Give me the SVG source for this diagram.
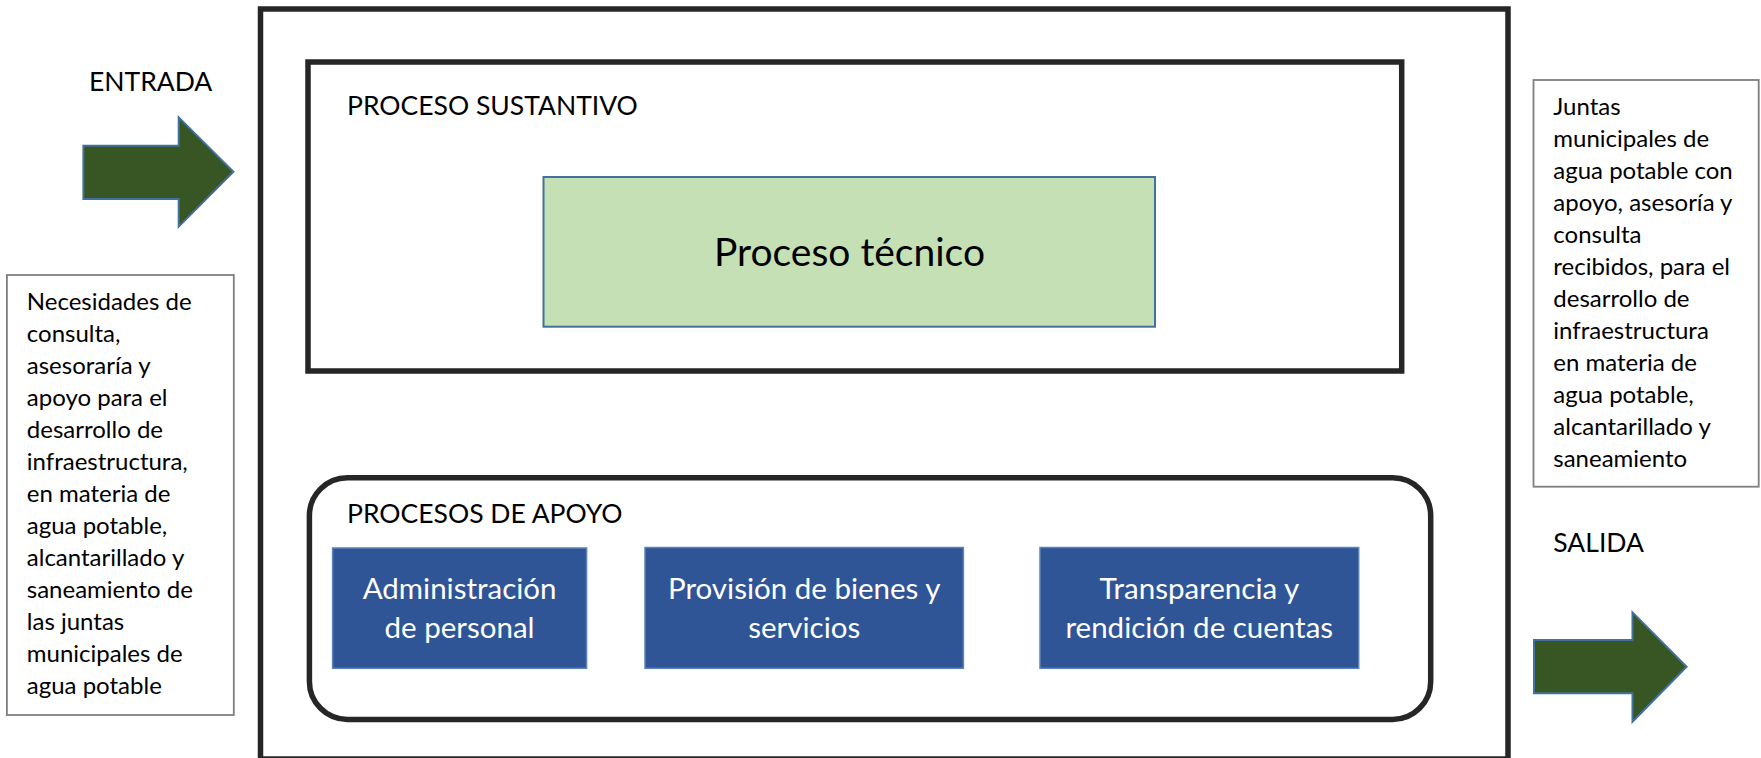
<svg xmlns="http://www.w3.org/2000/svg" width="1761" height="758" viewBox="0 0 1761 758">
<style>
.t{font-family:Lato,"Liberation Sans",sans-serif;fill:#000}
.body{font-size:24px}
.head{font-size:26.5px}
.w{font-family:Lato,"Liberation Sans",sans-serif;fill:#fff;font-size:29.5px;text-anchor:middle}
.frame{fill:none;stroke:#262626;stroke-width:5.5}
.tbox{fill:#fff;stroke:#7f7f7f;stroke-width:1.8}
.blue{fill:#2f5597;stroke:#5b84b8;stroke-width:1.5}
.arrow{fill:#375623;stroke:#41719c;stroke-width:2}
</style>
<rect width="1761" height="758" fill="#fff"/>
<g id="sistema">
<rect class="frame" x="260.5" y="9" width="1247.5" height="750"/>
</g>
<g id="proceso-sustantivo">
<rect class="frame" x="308" y="62" width="1093.7" height="309"/>
<text class="t head" x="347" y="115">PROCESO SUSTANTIVO</text>
</g>
<g id="proceso-tecnico">
<rect x="543.5" y="177" width="611.5" height="149.7" fill="#c5e0b4" stroke="#41719c" stroke-width="2"/>
<text class="t" x="849.5" y="266" font-size="39" text-anchor="middle">Proceso técnico</text>
</g>
<g id="procesos-apoyo">
<rect class="frame" x="309.4" y="477.8" width="1121.3" height="241.6" rx="38" ry="38"/>
<text class="t head" x="347" y="523.3">PROCESOS DE APOYO</text>
</g>
<g id="administracion">
<rect class="blue" x="332.6" y="548" width="254" height="120.3"/>
<text class="w" x="459.6" y="599.3">Administración</text>
<text class="w" x="459.6" y="638.3">de personal</text>
</g>
<g id="provision">
<rect class="blue" x="645" y="547.5" width="318.4" height="120.8"/>
<text class="w" x="804.2" y="599.3">Provisión de bienes y</text>
<text class="w" x="804.2" y="638.3">servicios</text>
</g>
<g id="transparencia">
<rect class="blue" x="1040" y="547.5" width="318.7" height="120.8"/>
<text class="w" x="1199.3" y="599.3">Transparencia y</text>
<text class="w" x="1199.3" y="638.3">rendición de cuentas</text>
</g>
<g id="entrada">
<text class="t head" x="89" y="90.7">ENTRADA</text>
</g>
<g id="necesidades">
<rect class="tbox" x="6.9" y="275" width="226.9" height="440"/>
<text class="t body">
<tspan x="26.8" y="310">Necesidades de</tspan>
<tspan x="26.8" y="342">consulta,</tspan>
<tspan x="26.8" y="374">asesoraría y</tspan>
<tspan x="26.8" y="406">apoyo para el</tspan>
<tspan x="26.8" y="438">desarrollo de</tspan>
<tspan x="26.8" y="470">infraestructura,</tspan>
<tspan x="26.8" y="502">en materia de</tspan>
<tspan x="26.8" y="534">agua potable,</tspan>
<tspan x="26.8" y="566">alcantarillado y</tspan>
<tspan x="26.8" y="598">saneamiento de</tspan>
<tspan x="26.8" y="630">las juntas</tspan>
<tspan x="26.8" y="662">municipales de</tspan>
<tspan x="26.8" y="694">agua potable</tspan>
</text>
</g>
<g id="juntas">
<rect class="tbox" x="1533.5" y="80" width="225.2" height="406.7"/>
<text class="t body">
<tspan x="1553.3" y="115">Juntas</tspan>
<tspan x="1553.3" y="147">municipales de</tspan>
<tspan x="1553.3" y="179">agua potable con</tspan>
<tspan x="1553.3" y="211">apoyo, asesoría y</tspan>
<tspan x="1553.3" y="243">consulta</tspan>
<tspan x="1553.3" y="275">recibidos, para el</tspan>
<tspan x="1553.3" y="307">desarrollo de</tspan>
<tspan x="1553.3" y="339">infraestructura</tspan>
<tspan x="1553.3" y="371">en materia de</tspan>
<tspan x="1553.3" y="403">agua potable,</tspan>
<tspan x="1553.3" y="435">alcantarillado y</tspan>
<tspan x="1553.3" y="467">saneamiento</tspan>
</text>
</g>
<g id="salida">
<text class="t head" x="1553.3" y="551.7">SALIDA</text>
</g>
<g id="connectors">
<polygon class="arrow" points="83.4,145.7 178.7,145.7 178.7,117.3 233.4,171.7 178.7,226.7 178.7,199 83.4,199"/>
<polygon class="arrow" points="1534,640 1632.5,640 1632.5,612.3 1686.6,666.7 1632.5,721.7 1632.5,693.3 1534,693.3"/>
</g>
</svg>
